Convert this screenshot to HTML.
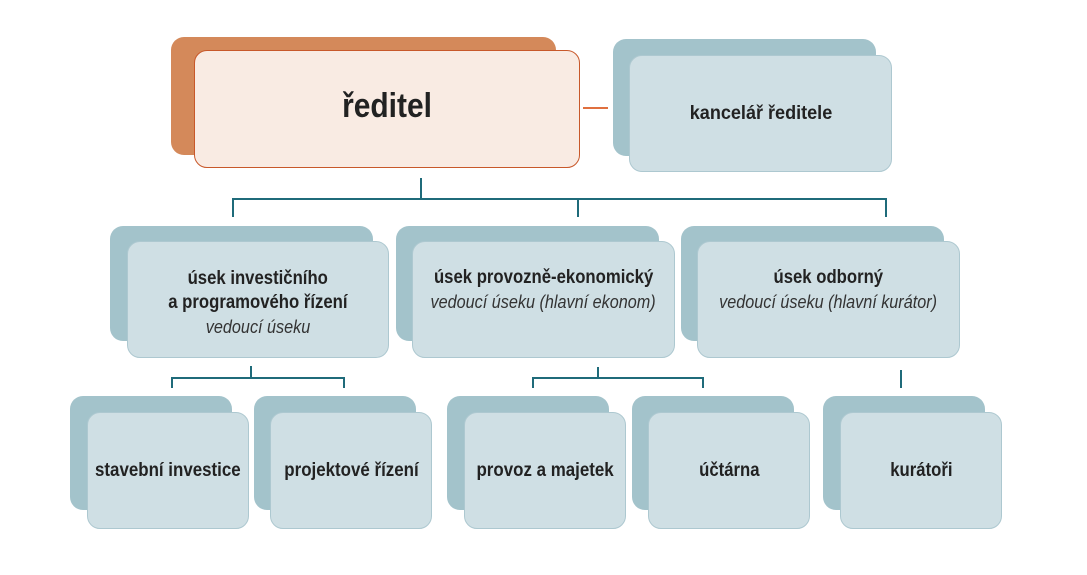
<!DOCTYPE html>
<html><head><meta charset="utf-8"><style>
body{margin:0;width:1087px;height:575px;background:#fff;position:relative;overflow:hidden;font-family:"Liberation Sans",sans-serif;}
.b{position:absolute;background:#a3c3cb;border-radius:13px;}
.f{position:absolute;background:#cfdfe4;border:1px solid #adc8d0;border-radius:13px;box-sizing:border-box;display:flex;flex-direction:column;justify-content:center;align-items:center;text-align:center;color:#222;font-weight:bold;font-size:19px;line-height:24px;white-space:nowrap;}
.f span{display:block;transform:scaleX(0.88);}
.f i{display:block;font-weight:normal;color:#333;font-size:18px;transform:scaleX(0.9);}
.l{position:absolute;background:#1f6b7a;}
</style></head><body>
<div class="b" style="left:171px;top:37px;width:385px;height:118px;background:#d4895a"></div>
<div class="f" style="left:194px;top:50px;width:386px;height:118px;background:#f9ebe3;border-color:#c8582a;font-size:34px;padding-bottom:6px"><span>ředitel</span></div>
<div class="l" style="left:583px;top:107px;width:25px;height:2px;background:#e0703f"></div>
<div class="b" style="left:613px;top:39px;width:263px;height:117px"></div>
<div class="f" style="left:629px;top:55px;width:263px;height:117px;padding-bottom:0px"><span style="transform:scaleX(0.95)">kancelář ředitele</span></div>

<div class="l" style="left:420px;top:178px;width:1.5px;height:21px"></div>
<div class="l" style="left:232px;top:198px;width:655px;height:1.5px"></div>
<div class="l" style="left:232px;top:198px;width:1.5px;height:19px"></div>
<div class="l" style="left:577px;top:198px;width:1.5px;height:19px"></div>
<div class="l" style="left:885px;top:198px;width:1.5px;height:19px"></div>

<div class="b" style="left:110px;top:226px;width:263px;height:115px"></div>
<div class="f" style="left:127px;top:241px;width:262px;height:117px;justify-content:flex-start;padding-top:25px"><span>úsek investičního</span><span>a programového řízení</span><i>vedoucí úseku</i></div>
<div class="b" style="left:396px;top:226px;width:263px;height:115px"></div>
<div class="f" style="left:412px;top:241px;width:263px;height:117px;justify-content:flex-start;padding-top:24px"><span>úsek provozně-ekonomický</span><i>vedoucí úseku (hlavní ekonom)</i></div>
<div class="b" style="left:681px;top:226px;width:263px;height:115px"></div>
<div class="f" style="left:697px;top:241px;width:263px;height:117px;justify-content:flex-start;padding-top:24px"><span>úsek odborný</span><i>vedoucí úseku (hlavní kurátor)</i></div>

<div class="l" style="left:250px;top:366px;width:1.5px;height:12px"></div>
<div class="l" style="left:171px;top:377px;width:173px;height:1.5px"></div>
<div class="l" style="left:171px;top:377px;width:1.5px;height:11px"></div>
<div class="l" style="left:343px;top:377px;width:1.5px;height:11px"></div>
<div class="l" style="left:597px;top:367px;width:1.5px;height:11px"></div>
<div class="l" style="left:532px;top:377px;width:171px;height:1.5px"></div>
<div class="l" style="left:532px;top:377px;width:1.5px;height:11px"></div>
<div class="l" style="left:702px;top:377px;width:1.5px;height:11px"></div>
<div class="l" style="left:900px;top:370px;width:1.5px;height:18px"></div>

<div class="b" style="left:70px;top:396px;width:162px;height:114px"></div>
<div class="f" style="left:87px;top:412px;width:162px;height:117px"><span style="transform:scaleX(0.89)">stavební investice</span></div>
<div class="b" style="left:254px;top:396px;width:162px;height:114px"></div>
<div class="f" style="left:270px;top:412px;width:162px;height:117px"><span style="transform:scaleX(0.89)">projektové řízení</span></div>
<div class="b" style="left:447px;top:396px;width:162px;height:114px"></div>
<div class="f" style="left:464px;top:412px;width:162px;height:117px"><span style="transform:scaleX(0.89)">provoz a majetek</span></div>
<div class="b" style="left:632px;top:396px;width:162px;height:114px"></div>
<div class="f" style="left:648px;top:412px;width:162px;height:117px"><span>účtárna</span></div>
<div class="b" style="left:823px;top:396px;width:162px;height:114px"></div>
<div class="f" style="left:840px;top:412px;width:162px;height:117px"><span>kurátoři</span></div>
</body></html>
